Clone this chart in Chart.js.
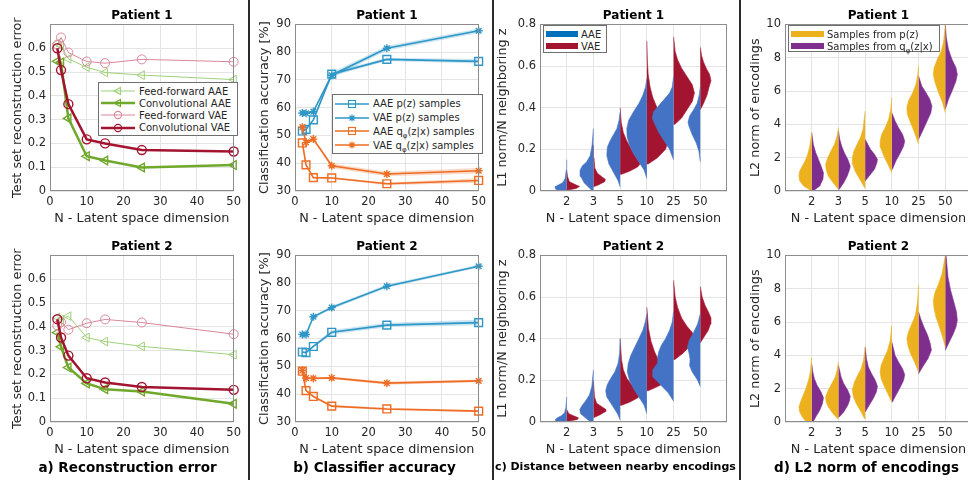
<!DOCTYPE html>
<html>
<head>
<meta charset="utf-8">
<script src="https://cdn.jsdelivr.net/npm/chart.js@4.4.1/dist/chart.umd.min.js"></script>
<style>
    body { margin: 0; width: 968px; height: 480px; overflow: hidden; background: #fff; position: relative;
           font-family: 'DejaVu Sans', sans-serif; color: #262626; }
    canvas { position: absolute; }
    .sep { position: absolute; top: 0; width: 2px; height: 480px; background: #2b2b2b; }
    .caption { position: absolute; width: 245px; text-align: center; font-weight: bold; color: #000;
               font-size: 13.5px; line-height: 16px; top: 459px; }
    .legend { position: absolute; background: #fff; border: 1px solid #6f6f6f; box-sizing: border-box;
              font-size: 10px; padding-top: 2px; }
    .legend .row { display: flex; align-items: center; white-space: nowrap; }
    .legend svg { flex: none; margin-right: 2px; }
    .legend sub { font-size: 7px; vertical-align: -3px; line-height: 0; }
    .patch { flex: none; display: inline-block; height: 6px; margin: 0 3px 0 2px; }
</style>
</head>
<body>
<canvas id="recP1" width="245" height="227" style="left:0;top:0"></canvas>
<canvas id="recP2" width="245" height="227" style="left:0;top:231px"></canvas>
<canvas id="accP1" width="245" height="227" style="left:245px;top:0"></canvas>
<canvas id="accP2" width="245" height="227" style="left:245px;top:231px"></canvas>
<canvas id="l1P1" width="245" height="227" style="left:490px;top:0"></canvas>
<canvas id="l1P2" width="245" height="227" style="left:490px;top:231px"></canvas>
<canvas id="l2P1" width="245" height="227" style="left:735px;top:0"></canvas>
<canvas id="l2P2" width="245" height="227" style="left:735px;top:231px"></canvas>

<div class="sep" style="left:248px"></div>
<div class="sep" style="left:492px"></div>
<div class="sep" style="left:739px"></div>

<div class="caption" style="left:5px">a) Reconstruction error</div>
<div class="caption" style="left:252px">b) Classifier accuracy</div>
<div class="caption" style="left:493px;font-size:11px">c) Distance between nearby encodings</div>
<div class="caption" style="left:744px">d) L2 norm of encodings</div>

<div class="legend" id="recLegend" style="left:98px;top:82px;width:140px;height:54px"></div>
<div class="legend" id="accLegend" style="left:332px;top:94px;width:151px;height:60px"></div>
<div class="legend" id="l1Legend" style="left:543px;top:25px;width:64px;height:28px"></div>
<div class="legend" id="l2Legend" style="left:788px;top:25px;width:152px;height:27px"></div>

<script>
'use strict';

// a) reconstruction error
const latentDimsA = [2, 3, 5, 10, 15, 25, 50];
const recLabels = ['Feed-forward AAE', 'Convolutional AAE', 'Feed-forward VAE', 'Convolutional VAE'];
const recP1FfAae = [0.62, 0.61, 0.555, 0.52, 0.498, 0.487, 0.468];
const recP1ConvAae = [0.545, 0.54, 0.305, 0.146, 0.128, 0.099, 0.109];
const recP1FfVae = [0.615, 0.645, 0.582, 0.544, 0.537, 0.553, 0.543];
const recP1ConvVae = [0.6, 0.508, 0.365, 0.217, 0.2, 0.172, 0.166];
const recP2FfAae = [0.44, 0.43, 0.445, 0.355, 0.338, 0.318, 0.283];
const recP2ConvAae = [0.376, 0.316, 0.229, 0.162, 0.138, 0.128, 0.077];
const recP2FfVae = [0.405, 0.42, 0.388, 0.415, 0.431, 0.418, 0.369];
const recP2ConvVae = [0.432, 0.355, 0.279, 0.184, 0.166, 0.147, 0.135];

// b) classifier accuracy, mean and spread of the shaded band
const latentDimsB = [2, 3, 5, 10, 25, 50];
const accLabels = ['AAE p(z) samples', 'VAE p(z) samples', 'AAE q<sub>φ</sub>(z|x) samples', 'VAE q<sub>φ</sub>(z|x) samples'];
const accP1AaePrior = [51.6, 52.2, 55.6, 72.1, 77.4, 76.7];
const accP1VaePrior = [58.1, 58.0, 58.6, 71.7, 81.4, 87.7];
const accP1AaePost = [47.3, 39.4, 34.8, 34.7, 32.6, 33.8];
const accP1VaePost = [53.0, 47.5, 48.7, 39.1, 36.1, 37.3];
const accP2AaePrior = [55.2, 55.0, 57.2, 62.3, 64.9, 65.8];
const accP2VaePrior = [61.5, 61.5, 67.9, 71.2, 78.9, 86.1];
const accP2AaePost = [48.3, 41.3, 39.2, 35.7, 34.7, 33.9];
const accP2VaePost = [48.6, 45.8, 45.7, 45.9, 44.0, 44.8];
const spreadP1AaePrior = [0.3, 0.3, 0.4, 0.8, 0.6, 0.8];
const spreadP1VaePrior = [0.3, 0.3, 0.3, 1.0, 0.8, 0.8];
const spreadP1AaePost = [0.3, 0.3, 0.3, 0.3, 0.5, 0.8];
const spreadP1VaePost = [0.3, 0.3, 0.3, 0.8, 0.8, 1.0];
const spreadP2AaePrior = [0.3, 0.3, 0.4, 0.8, 0.8, 1.0];
const spreadP2VaePrior = [0.3, 0.3, 0.4, 0.6, 0.6, 0.5];
const spreadP2AaePost = [0.3, 0.3, 0.3, 0.4, 0.4, 0.4];
const spreadP2VaePost = [0.3, 0.3, 0.3, 0.4, 0.6, 0.5];

// c) and d) half violins: per latent dimension a list of [value, density]
const violinDims = ['2', '3', '5', '10', '25', '50'];
const l1Labels = ['AAE', 'VAE'];
const l2Labels = ['Samples from p(z)', 'Samples from q<sub>φ</sub>(z|x)'];

const l1P1Aae = [
    [[0, 0.3], [0.01, 0.42], [0.02, 0.44], [0.03, 0.3], [0.04, 0.15], [0.06, 0.06], [0.1, 0.02], [0.15, 0]],
    [[0.002, 0.05], [0.02, 0.2], [0.04, 0.35], [0.07, 0.47], [0.1, 0.5], [0.12, 0.42], [0.14, 0.25], [0.17, 0.12], [0.22, 0.05], [0.3, 0]],
    [[0.02, 0], [0.05, 0.08], [0.09, 0.25], [0.13, 0.42], [0.17, 0.5], [0.21, 0.48], [0.24, 0.38], [0.27, 0.25], [0.3, 0.12], [0.34, 0.04], [0.38, 0]],
    [[0.06, 0], [0.1, 0.1], [0.14, 0.3], [0.18, 0.5], [0.22, 0.65], [0.26, 0.74], [0.3, 0.75], [0.34, 0.68], [0.38, 0.5], [0.42, 0.3], [0.46, 0.15], [0.5, 0.05], [0.54, 0]],
    [[0.15, 0], [0.2, 0.15], [0.24, 0.35], [0.28, 0.55], [0.32, 0.7], [0.35, 0.8], [0.38, 0.75], [0.41, 0.55], [0.44, 0.35], [0.47, 0.15], [0.5, 0.05], [0.55, 0]],
    [[0.14, 0], [0.19, 0.05], [0.23, 0.15], [0.27, 0.3], [0.31, 0.42], [0.33, 0.46], [0.36, 0.4], [0.39, 0.25], [0.42, 0.12], [0.46, 0.04], [0.5, 0]]
];
const l1P1Vae = [
    [[0.005, 0.05], [0.012, 0.35], [0.022, 0.48], [0.032, 0.3], [0.045, 0.1], [0.07, 0.03], [0.1, 0]],
    [[0.02, 0.02], [0.03, 0.2], [0.045, 0.42], [0.055, 0.45], [0.07, 0.3], [0.085, 0.15], [0.11, 0.05], [0.16, 0.02], [0.22, 0]],
    [[0.08, 0.05], [0.095, 0.35], [0.115, 0.65], [0.13, 0.75], [0.15, 0.65], [0.18, 0.5], [0.21, 0.38], [0.24, 0.25], [0.28, 0.12], [0.33, 0.04], [0.4, 0]],
    [[0.13, 0.05], [0.16, 0.4], [0.2, 0.7], [0.24, 0.8], [0.28, 0.72], [0.32, 0.6], [0.36, 0.5], [0.4, 0.38], [0.45, 0.22], [0.5, 0.12], [0.56, 0.05], [0.62, 0.02], [0.72, 0]],
    [[0.32, 0.05], [0.35, 0.3], [0.39, 0.5], [0.43, 0.7], [0.47, 0.78], [0.51, 0.7], [0.55, 0.5], [0.59, 0.3], [0.63, 0.15], [0.67, 0.06], [0.74, 0]],
    [[0.39, 0.02], [0.42, 0.12], [0.46, 0.25], [0.5, 0.33], [0.53, 0.4], [0.56, 0.35], [0.59, 0.22], [0.62, 0.12], [0.65, 0.05], [0.69, 0]]
];
const l1P2Aae = [
    [[0, 0.35], [0.01, 0.44], [0.02, 0.35], [0.03, 0.2], [0.045, 0.08], [0.07, 0.03], [0.12, 0]],
    [[0, 0.1], [0.02, 0.3], [0.04, 0.48], [0.06, 0.51], [0.08, 0.42], [0.1, 0.3], [0.13, 0.15], [0.17, 0.06], [0.25, 0]],
    [[0.01, 0], [0.04, 0.1], [0.08, 0.3], [0.12, 0.5], [0.15, 0.54], [0.18, 0.48], [0.21, 0.35], [0.24, 0.2], [0.28, 0.08], [0.33, 0.02], [0.4, 0]],
    [[0.04, 0], [0.08, 0.1], [0.12, 0.3], [0.16, 0.5], [0.2, 0.65], [0.24, 0.73], [0.28, 0.7], [0.32, 0.6], [0.36, 0.45], [0.4, 0.3], [0.44, 0.15], [0.48, 0.06], [0.52, 0]],
    [[0.1, 0], [0.14, 0.2], [0.18, 0.5], [0.22, 0.8], [0.25, 0.78], [0.28, 0.62], [0.31, 0.6], [0.34, 0.55], [0.37, 0.45], [0.4, 0.3], [0.44, 0.15], [0.48, 0.05], [0.53, 0]],
    [[0.17, 0], [0.2, 0.1], [0.24, 0.3], [0.27, 0.4], [0.3, 0.38], [0.33, 0.42], [0.36, 0.48], [0.39, 0.42], [0.43, 0.25], [0.47, 0.1], [0.52, 0]]
];
const l1P2Vae = [
    [[0.005, 0.1], [0.012, 0.4], [0.02, 0.44], [0.03, 0.25], [0.04, 0.08], [0.06, 0]],
    [[0.02, 0.02], [0.035, 0.25], [0.05, 0.45], [0.06, 0.47], [0.075, 0.3], [0.09, 0.12], [0.12, 0.04], [0.2, 0]],
    [[0.08, 0.05], [0.095, 0.35], [0.115, 0.65], [0.13, 0.75], [0.15, 0.62], [0.18, 0.42], [0.21, 0.25], [0.25, 0.12], [0.3, 0.05], [0.4, 0]],
    [[0.15, 0.05], [0.17, 0.4], [0.19, 0.7], [0.21, 0.8], [0.23, 0.75], [0.26, 0.6], [0.3, 0.42], [0.34, 0.28], [0.39, 0.15], [0.45, 0.06], [0.55, 0]],
    [[0.3, 0.05], [0.33, 0.35], [0.37, 0.65], [0.4, 0.78], [0.43, 0.7], [0.46, 0.5], [0.5, 0.3], [0.55, 0.15], [0.6, 0.06], [0.68, 0]],
    [[0.38, 0.02], [0.41, 0.15], [0.44, 0.3], [0.47, 0.38], [0.5, 0.4], [0.53, 0.3], [0.56, 0.18], [0.6, 0.07], [0.65, 0]]
];

const l2P1Prior = [
    [[0.05, 0.05], [0.3, 0.3], [0.6, 0.45], [0.9, 0.48], [1.2, 0.45], [1.5, 0.35], [1.8, 0.25], [2.2, 0.15], [2.7, 0.07], [3.5, 0]],
    [[0.15, 0.03], [0.5, 0.2], [0.9, 0.38], [1.3, 0.46], [1.6, 0.48], [2.0, 0.4], [2.4, 0.28], [2.8, 0.15], [3.3, 0.05], [3.8, 0]],
    [[0.2, 0.02], [0.7, 0.2], [1.2, 0.38], [1.6, 0.46], [2.0, 0.48], [2.4, 0.42], [2.8, 0.3], [3.2, 0.18], [3.7, 0.08], [4.8, 0]],
    [[1.1, 0.02], [1.6, 0.15], [2.1, 0.3], [2.6, 0.42], [3.0, 0.44], [3.4, 0.38], [3.8, 0.25], [4.3, 0.12], [4.9, 0.04], [5.6, 0]],
    [[2.8, 0], [3.5, 0.15], [4.1, 0.3], [4.6, 0.42], [5.0, 0.44], [5.4, 0.38], [5.9, 0.22], [6.4, 0.1], [7.0, 0.03], [7.5, 0]],
    [[4.7, 0], [5.3, 0.1], [5.9, 0.25], [6.5, 0.38], [7.0, 0.45], [7.4, 0.42], [7.9, 0.3], [8.4, 0.15], [9.0, 0.06], [10, 0]]
];
const l2P1Post = [
    [[0, 0.05], [0.3, 0.3], [0.7, 0.42], [1.1, 0.44], [1.5, 0.35], [1.9, 0.25], [2.3, 0.15], [2.8, 0.06], [3.5, 0]],
    [[0.1, 0.03], [0.5, 0.2], [0.9, 0.33], [1.3, 0.42], [1.5, 0.44], [1.9, 0.35], [2.3, 0.22], [2.7, 0.12], [3.1, 0.05], [3.6, 0]],
    [[0.6, 0.02], [0.9, 0.15], [1.3, 0.35], [1.7, 0.44], [1.9, 0.46], [2.2, 0.35], [2.5, 0.2], [2.8, 0.1], [3.1, 0]],
    [[1.3, 0.02], [1.8, 0.15], [2.3, 0.32], [2.7, 0.44], [3.0, 0.48], [3.4, 0.4], [3.8, 0.25], [4.2, 0.12], [4.7, 0]],
    [[3.1, 0], [3.6, 0.15], [4.2, 0.32], [4.7, 0.46], [5.1, 0.5], [5.5, 0.42], [5.9, 0.28], [6.3, 0.12], [6.9, 0]],
    [[4.9, 0], [5.5, 0.12], [6.1, 0.28], [6.6, 0.4], [7.0, 0.45], [7.4, 0.4], [7.9, 0.25], [8.5, 0.12], [9.2, 0.04], [10, 0]]
];
const l2P2Prior = [
    [[0, 0.2], [0.3, 0.35], [0.6, 0.45], [0.9, 0.48], [1.2, 0.42], [1.6, 0.32], [2.0, 0.22], [2.5, 0.12], [3.0, 0.05], [3.9, 0]],
    [[0.2, 0.03], [0.5, 0.2], [0.9, 0.38], [1.2, 0.46], [1.5, 0.48], [1.9, 0.38], [2.3, 0.25], [2.7, 0.12], [3.1, 0.05], [3.6, 0]],
    [[0.2, 0.02], [0.6, 0.15], [1.1, 0.33], [1.5, 0.44], [1.95, 0.48], [2.4, 0.4], [2.8, 0.28], [3.2, 0.15], [3.7, 0.06], [4.5, 0]],
    [[1.2, 0.02], [1.7, 0.15], [2.2, 0.3], [2.6, 0.4], [3.0, 0.44], [3.4, 0.4], [3.8, 0.3], [4.3, 0.16], [4.9, 0.06], [5.8, 0]],
    [[3.0, 0], [3.6, 0.15], [4.1, 0.3], [4.6, 0.4], [5.0, 0.44], [5.4, 0.38], [5.9, 0.25], [6.4, 0.12], [7.2, 0.04], [8.2, 0]],
    [[4.5, 0], [5.1, 0.1], [5.7, 0.22], [6.3, 0.35], [6.8, 0.42], [7.3, 0.45], [7.8, 0.38], [8.3, 0.25], [8.9, 0.12], [10, 0]]
];
const l2P2Post = [
    [[0, 0.05], [0.3, 0.15], [0.7, 0.3], [1.1, 0.4], [1.45, 0.44], [1.8, 0.35], [2.2, 0.2], [2.6, 0.1], [3.0, 0.04], [3.5, 0]],
    [[0.3, 0.03], [0.6, 0.2], [1.0, 0.35], [1.3, 0.42], [1.55, 0.44], [1.9, 0.35], [2.3, 0.2], [2.7, 0.1], [3.4, 0]],
    [[0.6, 0.02], [1.0, 0.15], [1.4, 0.3], [1.8, 0.42], [2.15, 0.46], [2.5, 0.38], [2.9, 0.24], [3.3, 0.12], [3.8, 0.05], [4.5, 0]],
    [[1.2, 0.02], [1.6, 0.15], [2.1, 0.32], [2.5, 0.44], [2.85, 0.48], [3.2, 0.4], [3.6, 0.25], [4.0, 0.12], [4.8, 0]],
    [[2.9, 0], [3.3, 0.15], [3.8, 0.35], [4.3, 0.48], [4.7, 0.44], [5.2, 0.34], [5.7, 0.2], [6.2, 0.08], [6.6, 0]],
    [[4.3, 0], [4.8, 0.15], [5.3, 0.3], [5.7, 0.4], [6.1, 0.45], [6.6, 0.42], [7.2, 0.32], [7.9, 0.2], [8.7, 0.1], [10, 0.03]]
];

const FONT = "'DejaVu Sans', sans-serif";
const TEXT = '#262626';
const GRID = '#e4e4e4';
const FRAME = '#8c8c8c';
const TICK_SIZE = 11.5;
const LABEL_SIZE = 12.8;

const GREEN_LIGHT = '#9fd07a';
const GREEN = '#6fa82a';
const RED_LIGHT = '#d9879a';
const RED = '#a2142f';
const BLUE = '#2e97c7';
const ORANGE = '#ef6c23';
const VIOLIN_BLUE = '#4472c4';
const YELLOW = '#edb120';
const PURPLE = '#7e2f8e';

const recStyles = [
    {color: GREEN_LIGHT, width: 1, marker: 'triangle', radius: 5},
    {color: GREEN, width: 2.5, marker: 'triangle', radius: 5},
    {color: RED_LIGHT, width: 1, marker: 'circle', radius: 4.5},
    {color: RED, width: 2.5, marker: 'circle', radius: 4.5}
];
const accStyles = [
    {color: BLUE, width: 1.6, marker: 'rect', radius: 5.5},
    {color: BLUE, width: 1.6, marker: 'star', radius: 4},
    {color: ORANGE, width: 1.6, marker: 'rect', radius: 5.5},
    {color: ORANGE, width: 1.6, marker: 'star', radius: 4}
];

/**
 * Draws the full box round the plot area, like a MATLAB axes.
 */
const axesBox = {
    id: 'axesBox',
    afterDraw: function (chart) {
        const a = chart.chartArea;
        const ctx = chart.ctx;

        ctx.save();
        ctx.strokeStyle = FRAME;
        ctx.lineWidth = 1;
        ctx.strokeRect(Math.round(a.left) + 0.5, Math.round(a.top) + 0.5,
            Math.round(a.right - a.left) - 1, Math.round(a.bottom - a.top) - 1);
        ctx.restore();
    }
};

/**
 * @param {Array} xs
 * @param {Array} ys
 * @param {Object} style
 * @returns {Object} line dataset
 */
function lineSeries(xs, ys, style) {
    return {
        data: xs.map(function (x, i) { return {x: x, y: ys[i]}; }),
        borderColor: style.color,
        borderWidth: style.width,
        pointStyle: style.marker,
        pointRotation: style.marker === 'triangle' ? 270 : 0,
        pointRadius: style.radius,
        pointBorderColor: style.color,
        pointBorderWidth: style.width > 1.5 ? 1.4 : 1,
        pointBackgroundColor: 'rgba(255,255,255,0)',
        fill: false,
        tension: 0,
        clip: false
    };
}

/**
 * Shaded band: lower edge plus an upper edge that fills down to it.
 */
function bandSeries(xs, ys, spread, color) {
    const edge = function (sign) {
        return xs.map(function (x, i) { return {x: x, y: ys[i] + sign * spread[i]}; });
    };
    const common = {borderWidth: 0, borderColor: 'rgba(0,0,0,0)', pointRadius: 0, tension: 0};

    return [
        Object.assign({data: edge(-1), fill: false}, common),
        Object.assign({data: edge(1), fill: '-1', backgroundColor: color}, common)
    ];
}

/**
 * One half violin per latent dimension, side -1 is left, 1 is right.
 */
function halfViolins(profiles, side, color) {
    return profiles.map(function (profile, i) {
        const centre = i + 1;
        const outline = profile.map(function (p) {
            return {x: centre + side * p[1], y: p[0]};
        });

        return {
            data: [{x: centre, y: profile[0][0]}].concat(outline, [{x: centre, y: profile[profile.length - 1][0]}]),
            fill: 'shape',
            backgroundColor: color,
            borderColor: color,
            borderWidth: 0.6,
            pointRadius: 0,
            tension: 0
        };
    });
}

function yAxis(min, max, step, title, titlePad, hideTop) {
    return {
        type: 'linear',
        min: min,
        max: max,
        afterFit: function (scale) { scale.width = 50; },
        ticks: {
            stepSize: step,
            color: TEXT,
            padding: 4,
            font: {family: FONT, size: TICK_SIZE},
            callback: function (value, index, ticks) {
                if (hideTop && value >= max) {
                    return '';
                }
                return Chart.Ticks.formatters.numeric.call(this, value, index, ticks);
            }
        },
        grid: {color: GRID, drawTicks: false},
        border: {display: false},
        title: {display: true, text: title, color: TEXT, font: {family: FONT, size: LABEL_SIZE}, padding: {top: titlePad, bottom: 0}}
    };
}

function xAxis(categorical) {
    const axis = {
        type: 'linear',
        afterFit: function (scale) { scale.height = 36; },
        ticks: {color: TEXT, padding: 4, font: {family: FONT, size: TICK_SIZE}, autoSkip: false, maxRotation: 0},
        grid: {color: GRID, drawTicks: false},
        border: {display: false},
        title: {display: true, text: 'N - Latent space dimension', color: TEXT, font: {family: FONT, size: LABEL_SIZE}, padding: {top: 0, bottom: 1}}
    };

    if (categorical) {
        axis.min = 0;
        axis.max = violinDims.length + 1;
        axis.afterBuildTicks = function (scale) {
            scale.ticks = violinDims.map(function (d, i) { return {value: i + 1}; });
        };
        axis.ticks.callback = function (value) { return violinDims[value - 1]; };
    } else {
        axis.min = 0;
        axis.max = 50;
        axis.ticks.stepSize = 10;
    }
    return axis;
}

function makeChart(id, title, datasets, x, y) {
    return new Chart(document.getElementById(id), {
        type: 'line',
        data: {datasets: datasets},
        options: {
            responsive: false,
            animation: false,
            events: [],
            layout: {padding: {left: 0, right: 8, top: 0, bottom: 0}},
            scales: {x: x, y: y},
            plugins: {
                legend: {display: false},
                tooltip: {enabled: false},
                title: {
                    display: true,
                    text: title,
                    fullSize: false,
                    color: '#000',
                    font: {family: FONT, size: 12, weight: 'bold'},
                    padding: {top: 9, bottom: 1}
                }
            }
        },
        plugins: [axesBox]
    });
}

function recDatasets(series) {
    // later series sit on top, chart.js draws index 0 last
    return series.map(function (ys, i) {
        return lineSeries(latentDimsA, ys, recStyles[i]);
    }).reverse();
}

function accDatasets(series, spreads) {
    const lines = series.map(function (ys, i) {
        return lineSeries(latentDimsB, ys, accStyles[i]);
    }).reverse();
    let bands = [];

    series.forEach(function (ys, i) {
        const tint = accStyles[i].color === BLUE ? 'rgba(46,151,199,0.25)' : 'rgba(239,108,35,0.25)';
        bands = bands.concat(bandSeries(latentDimsB, ys, spreads[i], tint));
    });
    return lines.concat(bands);
}

makeChart('recP1', 'Patient 1',
    recDatasets([recP1FfAae, recP1ConvAae, recP1FfVae, recP1ConvVae]),
    xAxis(false), yAxis(0, 0.7, 0.1, 'Test set reconstruction error', 10, true));
makeChart('recP2', 'Patient 2',
    recDatasets([recP2FfAae, recP2ConvAae, recP2FfVae, recP2ConvVae]),
    xAxis(false), yAxis(0, 0.7, 0.1, 'Test set reconstruction error', 10, true));

makeChart('accP1', 'Patient 1',
    accDatasets([accP1AaePrior, accP1VaePrior, accP1AaePost, accP1VaePost],
        [spreadP1AaePrior, spreadP1VaePrior, spreadP1AaePost, spreadP1VaePost]),
    xAxis(false), yAxis(30, 90, 10, 'Classification accuracy [%]', 12, false));
makeChart('accP2', 'Patient 2',
    accDatasets([accP2AaePrior, accP2VaePrior, accP2AaePost, accP2VaePost],
        [spreadP2AaePrior, spreadP2VaePrior, spreadP2AaePost, spreadP2VaePost]),
    xAxis(false), yAxis(30, 90, 10, 'Classification accuracy [%]', 12, false));

makeChart('l1P1', 'Patient 1',
    halfViolins(l1P1Aae, -1, VIOLIN_BLUE).concat(halfViolins(l1P1Vae, 1, RED)),
    xAxis(true), yAxis(0, 0.8, 0.2, 'L1 norm/N neighboring z', 5, false));
makeChart('l1P2', 'Patient 2',
    halfViolins(l1P2Aae, -1, VIOLIN_BLUE).concat(halfViolins(l1P2Vae, 1, RED)),
    xAxis(true), yAxis(0, 0.8, 0.2, 'L1 norm/N neighboring z', 5, false));

makeChart('l2P1', 'Patient 1',
    halfViolins(l2P1Prior, -1, YELLOW).concat(halfViolins(l2P1Post, 1, PURPLE)),
    xAxis(true), yAxis(0, 10, 2, 'L2 norm of encodings', 13, false));
makeChart('l2P2', 'Patient 2',
    halfViolins(l2P2Prior, -1, YELLOW).concat(halfViolins(l2P2Post, 1, PURPLE)),
    xAxis(true), yAxis(0, 10, 2, 'L2 norm of encodings', 13, false));

/**
 * Small svg with a line sample and an open marker, for the legends.
 */
function sampleSvg(style, w) {
    const cy = 6;
    const cx = w / 2;
    let marker = '';
    const stroke = ' fill="none" stroke="' + style.color + '" stroke-width="1.1"';

    if (style.marker === 'triangle') {
        marker = '<polygon points="' + (cx - 4) + ',' + cy + ' ' + (cx + 2.5) + ',' + (cy - 3.5) + ' ' +
            (cx + 2.5) + ',' + (cy + 3.5) + '"' + stroke + '/>';
    } else if (style.marker === 'circle') {
        marker = '<circle cx="' + cx + '" cy="' + cy + '" r="3.6"' + stroke + '/>';
    } else if (style.marker === 'rect') {
        marker = '<rect x="' + (cx - 3.5) + '" y="' + (cy - 3.5) + '" width="7" height="7"' + stroke + '/>';
    } else {
        marker = '<path d="M' + (cx - 3.5) + ' ' + cy + 'h7M' + cx + ' ' + (cy - 3.5) + 'v7M' + (cx - 2.5) + ' ' +
            (cy - 2.5) + 'l5 5M' + (cx - 2.5) + ' ' + (cy + 2.5) + 'l5 -5"' + stroke + '/>';
    }
    return '<svg width="' + w + '" height="12"><line x1="2" y1="' + cy + '" x2="' + (w - 2) + '" y2="' + cy +
        '" stroke="' + style.color + '" stroke-width="' + style.width + '"/>' + marker + '</svg>';
}

function lineLegend(id, labels, styles, w, rowHeight) {
    document.getElementById(id).innerHTML = labels.map(function (label, i) {
        return '<div class="row" style="height:' + rowHeight + 'px">' + sampleSvg(styles[i], w) +
            '<span>' + label + '</span></div>';
    }).join('');
}

function patchLegend(id, labels, colors, w) {
    document.getElementById(id).innerHTML = labels.map(function (label, i) {
        return '<div class="row" style="height:12px"><span class="patch" style="width:' + w + 'px;background:' +
            colors[i] + '"></span><span>' + label + '</span></div>';
    }).join('');
}

lineLegend('recLegend', recLabels, recStyles, 38, 12.2);
lineLegend('accLegend', accLabels, accStyles, 38, 13.8);
patchLegend('l1Legend', l1Labels, ['#0072bd', RED], 32);
patchLegend('l2Legend', l2Labels, [YELLOW, PURPLE], 33);
</script>
</body>
</html>
